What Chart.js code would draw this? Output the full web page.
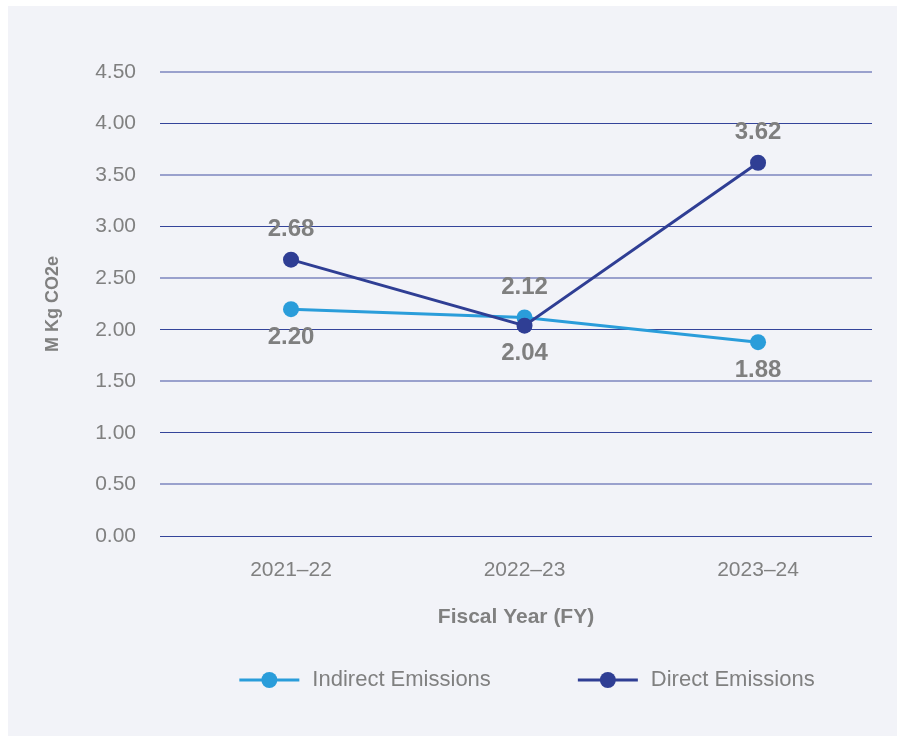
<!DOCTYPE html>
<html>
<head>
<meta charset="utf-8">
<title>Emissions by Fiscal Year</title>
<script src="https://cdn.jsdelivr.net/npm/chart.js@4/dist/chart.umd.min.js"></script>
<style>
    body { margin: 0; background: #ffffff; }
    #panel { position: absolute; left: 8px; top: 6px; width: 889px; height: 730px; background: #f2f3f8; }
</style>
</head>
<body>
<div id="panel"><canvas id="myChart" width="889" height="730"></canvas></div>
<script>
// data
const years = ['2021–22', '2022–23', '2023–24'];
const indirectEmissions = [2.20, 2.12, 1.88];
const directEmissions = [2.68, 2.04, 3.62];
const yTickValues = [0, 0.5, 1, 1.5, 2, 2.5, 3, 3.5, 4, 4.5];

// where each value label sits relative to its point
const indirectLabelPos = ['below', 'above', 'below'];
const directLabelPos = ['above', 'below', 'above'];

const INDIRECT_COLOR = '#2a9dda';
const DIRECT_COLOR = '#2f3e94';
const TEXT_GRAY = '#808080';
const FONT = '"Liberation Sans", Arial, sans-serif';

const toPoints = arr => arr.map((v, i) => ({ x: i, y: v }));

// numbers above / below the points
const valueLabels = {
    id: 'valueLabels',
    afterDatasetsDraw(chart) {
        const ctx = chart.ctx;
        ctx.save();
        ctx.font = 'bold 24px ' + FONT;
        ctx.fillStyle = '#7f7f7f';
        ctx.textAlign = 'center';
        ctx.textBaseline = 'middle';
        chart.data.datasets.forEach((ds, i) => {
            chart.getDatasetMeta(i).data.forEach((pt, j) => {
                const dy = ds.labelPos[j] === 'above' ? -30 : 28;
                ctx.fillText(ds.data[j].y.toFixed(2), pt.x, pt.y + dy);
            });
        });
        ctx.restore();
    }
};

// legend: line with a dot, then the series name
const lineLegend = {
    id: 'lineLegend',
    afterDraw(chart) {
        const ctx = chart.ctx;
        const area = chart.chartArea;
        const y = 674;
        const lineW = 60, gap = 13, itemGap = 87;
        ctx.save();
        ctx.font = '22px ' + FONT;
        const items = chart.data.datasets.map(ds => ({
            label: ds.label,
            color: ds.borderColor,
            textW: ctx.measureText(ds.label).width
        }));
        const total = items.reduce((s, it) => s + lineW + gap + it.textW, 0) + itemGap * (items.length - 1);
        let x = (area.left + area.right) / 2 + 11 - total / 2;
        items.forEach(it => {
            ctx.strokeStyle = it.color;
            ctx.lineWidth = 3;
            ctx.beginPath();
            ctx.moveTo(x, y);
            ctx.lineTo(x + lineW, y);
            ctx.stroke();
            ctx.fillStyle = it.color;
            ctx.beginPath();
            ctx.arc(x + lineW / 2, y, 8, 0, Math.PI * 2);
            ctx.fill();
            ctx.fillStyle = TEXT_GRAY;
            ctx.textAlign = 'left';
            ctx.textBaseline = 'middle';
            ctx.fillText(it.label, x + lineW + gap, y);
            x += lineW + gap + it.textW + itemGap;
        });
        ctx.restore();
    }
};

const ctx = document.getElementById('myChart').getContext('2d');

new Chart(ctx, {
    type: 'line',
    data: {
        datasets: [
            {
                label: 'Indirect Emissions',
                data: toPoints(indirectEmissions),
                labelPos: indirectLabelPos,
                borderColor: INDIRECT_COLOR,
                backgroundColor: INDIRECT_COLOR,
                borderWidth: 3,
                pointRadius: 8,
                pointBorderWidth: 0,
                order: 2
            },
            {
                label: 'Direct Emissions',
                data: toPoints(directEmissions),
                labelPos: directLabelPos,
                borderColor: DIRECT_COLOR,
                backgroundColor: DIRECT_COLOR,
                borderWidth: 3,
                pointRadius: 8,
                pointBorderWidth: 0,
                order: 1
            }
        ]
    },
    options: {
        responsive: false,
        animation: false,
        events: [],
        layout: {
            padding: { left: 0, top: 66, right: 25, bottom: 100 }
        },
        plugins: {
            legend: { display: false },
            tooltip: { enabled: false }
        },
        scales: {
            x: {
                type: 'linear',
                min: -0.561,
                max: 2.488,
                afterBuildTicks: scale => {
                    scale.ticks = years.map((_, i) => ({ value: i }));
                },
                afterFit: scale => { scale.height = 100; },
                grid: { display: false },
                border: { display: false },
                ticks: {
                    padding: 14,
                    color: TEXT_GRAY,
                    font: { family: FONT, size: 21 },
                    callback: value => years[value] ?? ''
                },
                title: {
                    display: true,
                    text: 'Fiscal Year (FY)',
                    color: TEXT_GRAY,
                    font: { family: FONT, size: 21, weight: 'bold' },
                    padding: { top: 0, bottom: 6 }
                }
            },
            y: {
                min: 0,
                max: 4.5,
                afterBuildTicks: scale => {
                    scale.ticks = yTickValues.map(v => ({ value: v }));
                },
                afterFit: scale => { scale.width = 152; },
                border: { display: false },
                grid: {
                    drawTicks: false,
                    color: c => c.tick.value % 1 === 0 ? '#34449a' : '#9aa1cd',
                    lineWidth: c => c.tick.value % 1 === 0 ? 1 : 2
                },
                ticks: {
                    padding: 24,
                    color: TEXT_GRAY,
                    font: { family: FONT, size: 21 },
                    callback: value => value.toFixed(2)
                },
                title: {
                    display: true,
                    text: 'M Kg CO2e',
                    color: TEXT_GRAY,
                    font: { family: FONT, size: 18, weight: 'bold' },
                    padding: { top: 34, bottom: 0 }
                }
            }
        }
    },
    plugins: [valueLabels, lineLegend]
});
</script>
</body>
</html>
